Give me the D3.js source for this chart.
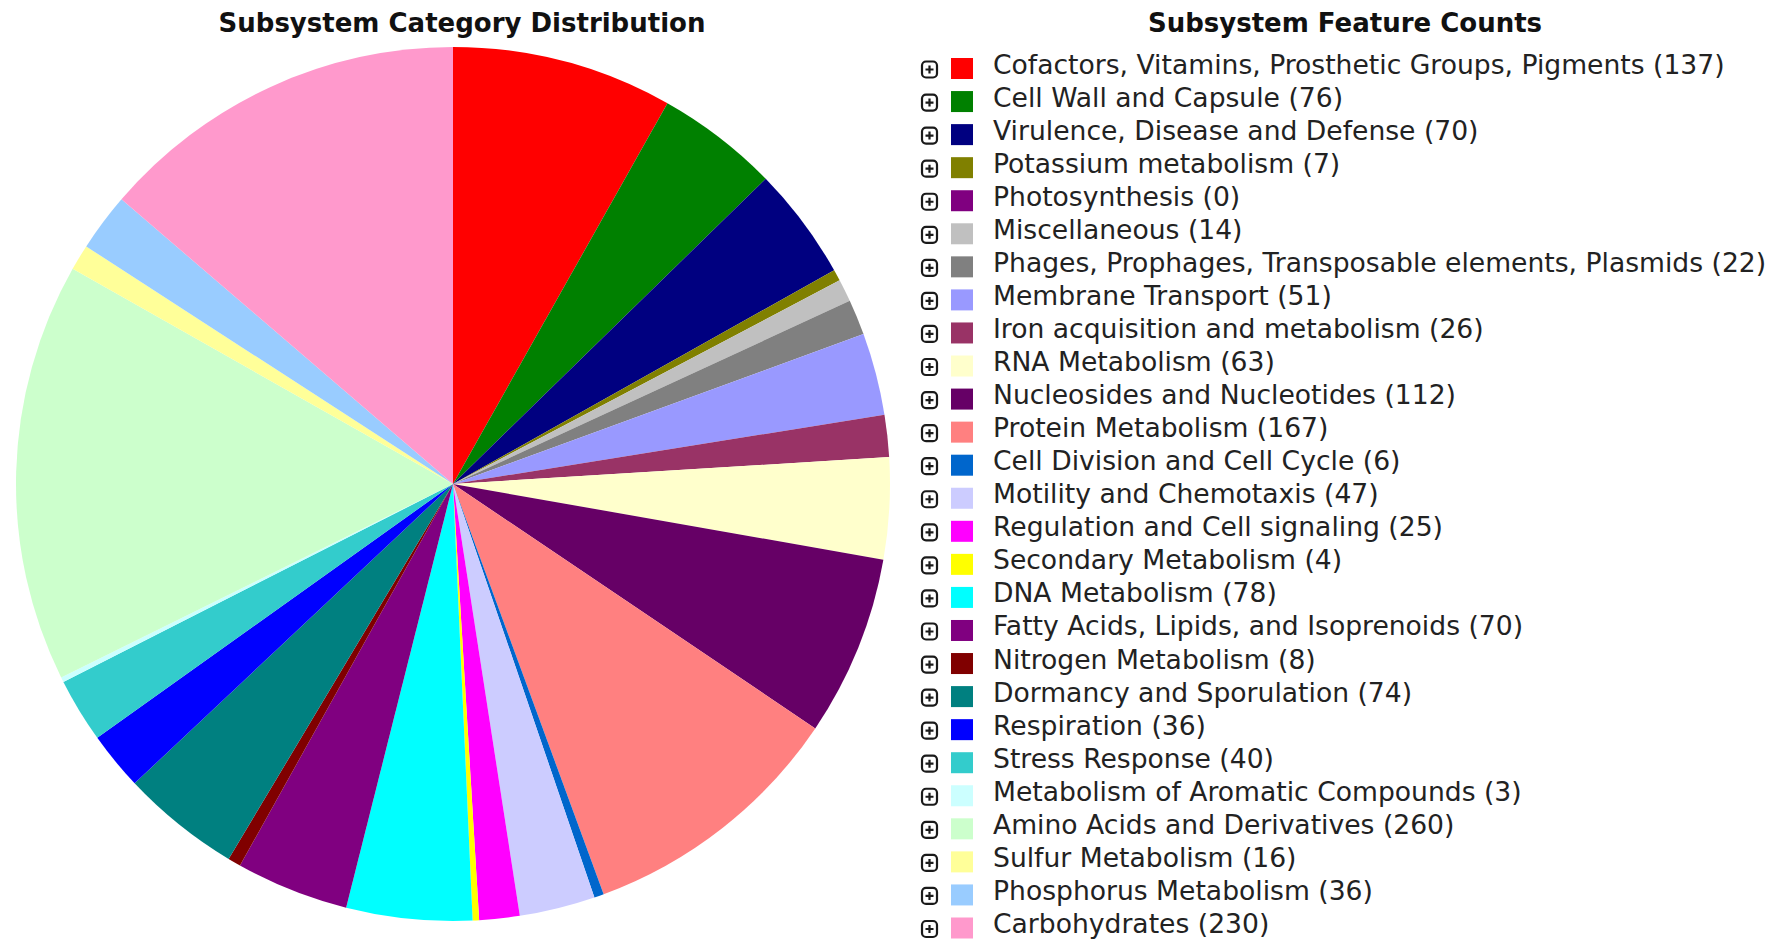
<!DOCTYPE html>
<html>
<head>
<meta charset="utf-8">
<script src="https://cdn.jsdelivr.net/npm/d3@7"></script>
<style>
  body { margin: 0; background: #fff; }
  svg { display: block; }
  text { font-family: "DejaVu Sans", Verdana, sans-serif; }
</style>
</head>
<body>
<div id="chart"></div>
<script>
// subsystem categories (legend order = pie order, clockwise from 12 o'clock)
const categories = [
  "Cofactors, Vitamins, Prosthetic Groups, Pigments",
  "Cell Wall and Capsule",
  "Virulence, Disease and Defense",
  "Potassium metabolism",
  "Photosynthesis",
  "Miscellaneous",
  "Phages, Prophages, Transposable elements, Plasmids",
  "Membrane Transport",
  "Iron acquisition and metabolism",
  "RNA Metabolism",
  "Nucleosides and Nucleotides",
  "Protein Metabolism",
  "Cell Division and Cell Cycle",
  "Motility and Chemotaxis",
  "Regulation and Cell signaling",
  "Secondary Metabolism",
  "DNA Metabolism",
  "Fatty Acids, Lipids, and Isoprenoids",
  "Nitrogen Metabolism",
  "Dormancy and Sporulation",
  "Respiration",
  "Stress Response",
  "Metabolism of Aromatic Compounds",
  "Amino Acids and Derivatives",
  "Sulfur Metabolism",
  "Phosphorus Metabolism",
  "Carbohydrates"
];

const counts = [137, 76, 70, 7, 0, 14, 22, 51, 26, 63, 112, 167, 6, 47, 25, 4, 78, 70, 8, 74, 36, 40, 3, 260, 16, 36, 230];

const colors = [
  "#FF0000", "#008000", "#000080", "#808000", "#800080", "#C0C0C0", "#808080",
  "#9999FF", "#993366", "#FFFFCC", "#660066", "#FF8080", "#0066CC", "#CCCCFF",
  "#FF00FF", "#FFFF00", "#00FFFF", "#800080", "#800000", "#008080", "#0000FF",
  "#33CCCC", "#CCFFFF", "#CCFFCC", "#FFFF99", "#99CCFF", "#FF99CC"
];

const titles = ["Subsystem Category Distribution", "Subsystem Feature Counts"];

const rows = categories.map((c, i) => ({name: c, value: counts[i], color: colors[i]}));

// svg
const W = 1772, H = 948;
const svg = d3.select("#chart").append("svg")
  .attr("width", W)
  .attr("height", H);

// pie
const cx = 453, cy = 484, radius = 437;
const pie = d3.pie().sort(null).value(d => d.value);
const arc = d3.arc().innerRadius(0).outerRadius(radius);

const g = svg.append("g").attr("transform", `translate(${cx},${cy})`);
g.selectAll("path")
  .data(pie(rows))
  .enter()
  .append("path")
  .attr("d", arc)
  .attr("fill", d => d.data.color);

// titles
svg.append("text")
  .attr("x", 462).attr("y", 32)
  .attr("text-anchor", "middle")
  .style("font-size", "26px").style("font-weight", "bold").attr("fill", "#111")
  .text(titles[0]);

svg.append("text")
  .attr("x", 1345).attr("y", 32)
  .attr("text-anchor", "middle")
  .style("font-size", "26px").style("font-weight", "bold").attr("fill", "#111")
  .text(titles[1]);

// legend rows
const y = d3.scalePoint()
  .domain(categories)
  .range([68.5, 928]);

const item = svg.append("g").selectAll("g")
  .data(rows)
  .enter()
  .append("g")
  .attr("transform", d => `translate(0,${y(d.name)})`);

// expand (+) box
item.append("rect")
  .attr("x", 922).attr("y", -7)
  .attr("width", 15).attr("height", 16)
  .attr("rx", 4)
  .attr("fill", "#fff")
  .attr("stroke", "#1a1a1a")
  .attr("stroke-width", 2.2);
item.append("path")
  .attr("d", "M925.5,1H933.5M929.5,-3V5")
  .attr("stroke", "#1a1a1a")
  .attr("stroke-width", 2.2);

// colour key
item.append("rect")
  .attr("x", 951).attr("y", -10.5)
  .attr("width", 22).attr("height", 21)
  .attr("fill", d => d.color);

item.append("text")
  .attr("x", 993).attr("y", 5)
  .style("font-size", "26.6px")
  .attr("fill", "#222")
  .text(d => `${d.name} (${d.value})`);
</script>
</body>
</html>
